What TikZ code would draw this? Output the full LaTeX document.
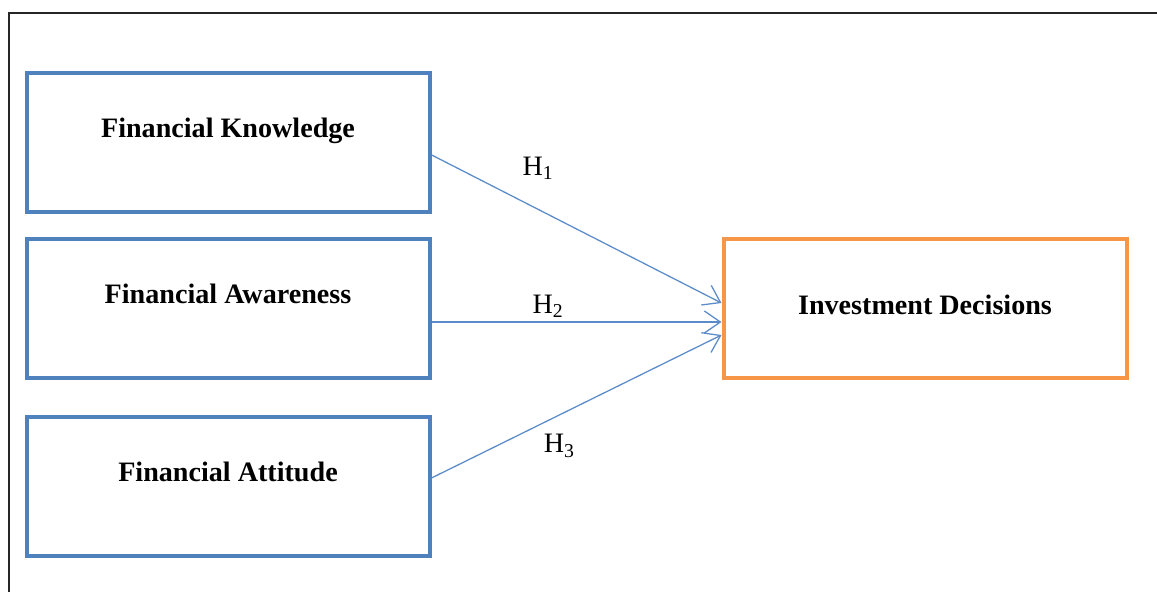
\documentclass[tikz,border=0pt]{standalone}
\usepackage{fontspec}
\setmainfont{Liberation Serif}
\usetikzlibrary{arrows.meta,positioning}

\definecolor{boxblue}{HTML}{4F81BD}
\definecolor{boxorange}{HTML}{F79646}
\definecolor{arrowblue}{HTML}{5B8BC9}

\begin{document}
\begin{tikzpicture}[font=\fontsize{20}{24}\selectfont, every node/.style={align=center}, line/.style={-{Straight Barb[length=4mm,width=5.5mm]}, line width=0.9pt, draw=arrowblue}]

% styles
\tikzset{
  factor/.style={rectangle, draw=boxblue, line width=1mm, minimum width=100.75mm, minimum height=34.75mm, inner sep=0pt, font=\fontsize{20}{24}\selectfont\bfseries, text depth=21pt},
  outcome/.style={rectangle, draw=boxorange, line width=1mm, minimum width=100.75mm, minimum height=34.75mm, inner sep=0pt, font=\fontsize{20}{24}\selectfont\bfseries, text depth=4pt},
  hyp/.style={inner sep=0pt}
}

% canvas and the frame lines at top and left
\useasboundingbox (0,0) rectangle (28.925,-14.8);
\coordinate (frameTL) at (0.225,-0.3125);
\coordinate (frameTR) at (28.925,-0.3125);
\coordinate (frameBL) at (0.225,-14.8);
\draw[line width=0.5mm, black!85] (frameTR) -- (frameTL) -- (frameBL);

% Absolute-positioned boxes
\node[factor] (FK) at (5.7,-3.56) {Financial Knowledge};
\node[factor] (FA) at (5.7,-7.7) {Financial Awareness};
\node[factor] (FT) at (5.7,-12.16) {Financial Attitude};

\node[outcome] (ID) at (23.125,-7.7) {Investment Decisions};

% hypothesis labels
\node[hyp] (h1) at (13.45,-4.2) {H\textsubscript{1}};
\node[hyp] (h2) at (13.7,-7.65) {H\textsubscript{2}};
\node[hyp] (h3) at (13.98,-11.15) {H\textsubscript{3}};

% hypothesis paths
\draw[line] ([yshift=-0.3125cm]FK.east) -- ([yshift=0.125cm]ID.west);
\draw[line] ([yshift=-0.35cm]FA.east) -- ([yshift=-0.35cm]ID.west);
\draw[line] ([yshift=0.21cm]FT.east) -- ([yshift=-0.675cm]ID.west);

\end{tikzpicture}
\end{document}
